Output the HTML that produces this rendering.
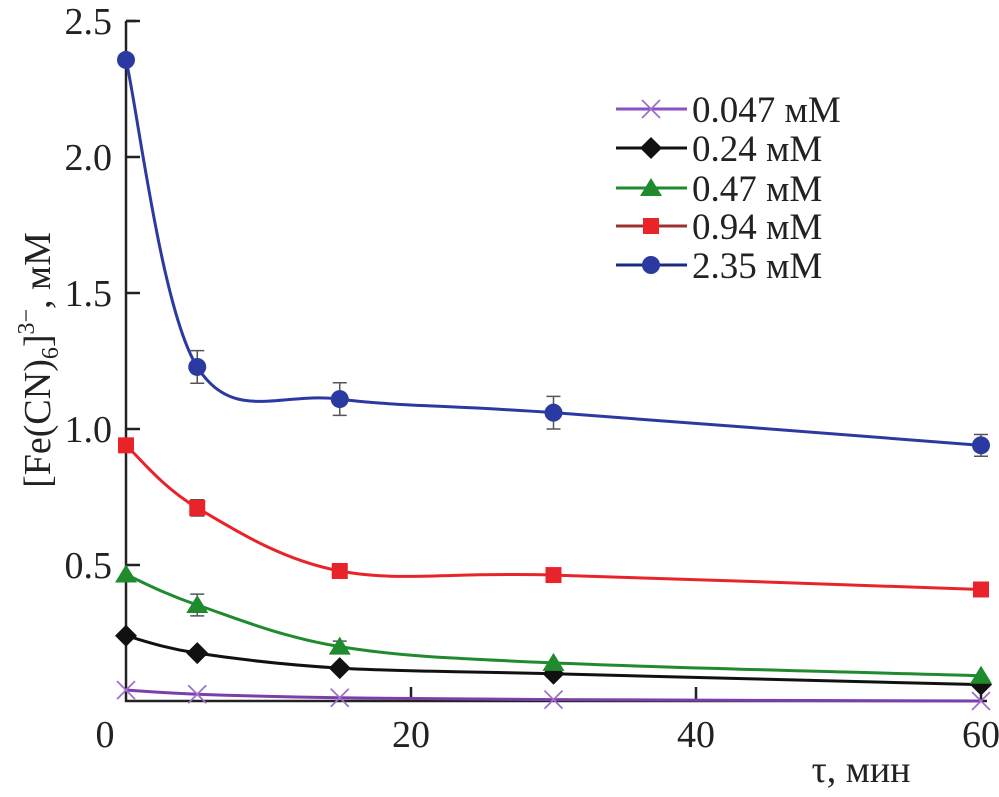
<!DOCTYPE html>
<html><head><meta charset="utf-8">
<style>
html,body{margin:0;padding:0;background:#fff;}
svg, text{font-family:"Liberation Serif","Times New Roman",serif;}
</style></head>
<body>
<svg id="chart" width="999" height="792" viewBox="0 0 999 792"></svg>
<script>
const xValues=[0,5,15,30,60];
const seriesNames=["0.047 мМ","0.24 мМ","0.47 мМ","0.94 мМ","2.35 мМ"];
const s0047=[0.04,0.025,0.012,0.005,0.0];
const s024=[0.24,0.176,0.121,0.10,0.06];
const s047=[0.465,0.353,0.20,0.14,0.093];
const s094=[0.94,0.71,0.478,0.463,0.41];
const s235=[2.357,1.228,1.11,1.06,0.94];
const err235=[0,0.06,0.06,0.06,0.04];
const err094=[0,0.03,0.015,0.015,0];
const err047=[0,0.04,0.02,0,0];
const xTicks=[0,20,40,60];
const yTicks=[0.5,1.0,1.5,2.0,2.5];
const yTickLabels=["0.5","1.0","1.5","2.0","2.5"];

const NS="http://www.w3.org/2000/svg";
const FONT="Liberation Serif, Times New Roman, serif";
const svg=document.getElementById('chart');
const X0=126,X1=981,Y0=701,Ytop=21;
const sx=v=>X0+(v-0)/(60-0)*(X1-X0);
const sy=v=>Y0-(v/2.5)*(Y0-Ytop);
function el(t,a,p){const e=document.createElementNS(NS,t);for(const k in a)e.setAttribute(k,a[k]);if(t==='text')e.setAttribute('font-family',FONT);(p||svg).appendChild(e);return e;}

const ax=el('path',{d:`M${X0} ${Ytop} H${X0+10} M${X0} ${Ytop} V${Y0} H${X1+6}`,stroke:'#222',fill:'none','stroke-width':2.5});


yTicks.forEach((v,i)=>{
  const t=el('line',{x1:X0,x2:X0+14,y1:sy(v),y2:sy(v),stroke:'#222','stroke-width':2.5});
  
  
  const l=el('text',{x:112,y:sy(v)+13,'text-anchor':'end','font-size':38,fill:'#222'});
  l.textContent=yTickLabels[i];
  
  
});
xTicks.forEach(v=>{
  if(v>0){const t=el('line',{x1:sx(v),x2:sx(v),y1:Y0,y2:Y0-14,stroke:'#222','stroke-width':2.5});
  
  }
  const l=el('text',{x:v===0?105:sx(v),y:747,'text-anchor':'middle','font-size':38,fill:'#222'});
  l.textContent=String(v);
  
  
});
const xt=el('text',{x:861,y:782,'text-anchor':'middle','font-size':38,fill:'#222'});
xt.textContent='τ, мин';


const yt=el('text',{transform:'translate(50,360) rotate(-90)','text-anchor':'middle','font-size':38,fill:'#222'});
yt.innerHTML='[Fe(CN)<tspan font-size="24" dy="8">6</tspan><tspan dy="-8">]</tspan><tspan font-size="24" dy="-16">3−</tspan><tspan dy="16">, мМ</tspan>';



function spline(vals){
  const p=vals.map((v,i)=>[sx(xValues[i]),sy(v)]);
  let d=`M${p[0][0]} ${p[0][1]}`;
  for(let i=0;i<p.length-1;i++){
    const a=p[i-1]||p[i],b=p[i],c=p[i+1],e=p[i+2]||c;
    const c1=[b[0]+(c[0]-a[0])/6,b[1]+(c[1]-a[1])/6];
    const c2=[c[0]-(e[0]-b[0])/6,c[1]-(e[1]-b[1])/6];
    d+=` C${c1[0]} ${c1[1]} ${c2[0]} ${c2[1]} ${c[0]} ${c[1]}`;
  }
  return d;
}
function marker(kind,x,y,col,g){
  if(kind==='x'){el('path',{d:`M${x-9} ${y-9}L${x+9} ${y+9}M${x-9} ${y+9}L${x+9} ${y-9}`,stroke:'#a070c8','stroke-width':1.8},g);}
  else if(kind==='d'){el('path',{d:`M${x} ${y-11}L${x+11} ${y}L${x} ${y+11}L${x-11} ${y}Z`,fill:col},g);}
  else if(kind==='t'){el('path',{d:`M${x} ${y-10}L${x+11} ${y+8}L${x-11} ${y+8}Z`,fill:col},g);}
  else if(kind==='s'){el('rect',{x:x-8,y:y-8,width:16,height:16,fill:col},g);}
  else {el('circle',{cx:x,cy:y,r:9,fill:col},g);}
}
const series=[
  {v:s0047,col:'#7a3fa8',m:'x',err:null,name:'series-0047'},
  {v:s024,col:'#111',m:'d',err:null,name:'series-024'},
  {v:s047,col:'#1f8a2e',m:'t',err:err047,name:'series-047'},
  {v:s094,col:'#e8242a',m:'s',err:err094,name:'series-094'},
  {v:s235,col:'#2b3aa0',m:'o',err:err235,name:'series-235'}
];
series.forEach(s=>{
  const g=el('g',{});
  
  
  el('path',{d:spline(s.v),fill:'none',stroke:s.col,'stroke-width':3},g);
  s.v.forEach((v,i)=>{
    const x=sx(xValues[i]),y=sy(v);
    if(s.err&&s.err[i]>0){
      const t=sy(v+s.err[i]),b=sy(v-s.err[i]);
      el('path',{d:`M${x} ${t}V${b}M${x-7} ${t}H${x+7}M${x-7} ${b}H${x+7}`,stroke:'#555','stroke-width':1.5,fill:'none'},g);
    }
    marker(s.m,x,y,s.col,g);
  });
});
const ly=[109,148,188,226,265];
const lcols=['#8a4fc0','#111','#1f8a2e','#a03030','#1a2a80'];
const lmk=['x','d','t','s','o'];
const mcol=['#8a4fc0','#111','#1f8a2e','#e8242a','#2b3aa0'];
seriesNames.forEach((n,i)=>{
  const g=el('g',{});
  
  
  el('line',{x1:616,x2:687,y1:ly[i],y2:ly[i],stroke:lcols[i],'stroke-width':3},g);
  marker(lmk[i],651,ly[i],mcol[i],g);
  const t=el('text',{x:692,y:ly[i]+13,'font-size':37,fill:'#222'},g);
  t.textContent=n;
});
</script>
</body></html>
